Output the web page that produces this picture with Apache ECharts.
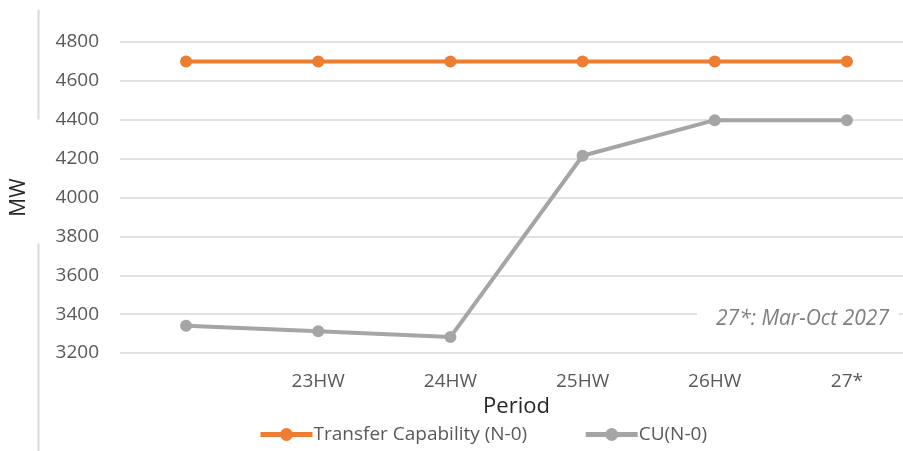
<!DOCTYPE html>
<html>
<head>
<meta charset="utf-8">
<script src="https://cdn.jsdelivr.net/npm/echarts@6/dist/echarts.min.js"></script>
<style>
  html, body { margin: 0; padding: 0; background: #fff; }
  #chart { width: 903px; height: 451px; }
</style>
</head>
<body>
<div id="chart"></div>
<script>
// 数据
const periods = ["", "23HW", "24HW", "25HW", "26HW", "27*"];
const transferCapability = [4700, 4700, 4700, 4700, 4700, 4700];
const cuN0 = [3340, 3312, 3282, 4215, 4398, 4398];
const yTicks = { min: 3200, max: 4800, interval: 200 };

const FONT = "'Open Sans', 'Noto Sans', sans-serif";
const ORANGE = "#ED7D31";
const GREY = "#A5A5A5";

const chart = echarts.init(document.getElementById("chart"));

chart.setOption({
  animation: false,
  textStyle: { fontFamily: FONT },
  grid: { left: 120, right: -10, top: 42, bottom: 98, outerBoundsMode: "none", containLabel: false },
  legend: {
    left: 253,
    top: 420,
    itemWidth: 52,
    itemHeight: 16,
    itemGap: 56,
    lineStyle: { width: 5 },
    textStyle: { color: "#595959", fontSize: 19, fontFamily: FONT, padding: [0, 0, 0, -4] },
    data: ["Transfer Capability (N-0)", "CU(N-0)"],
  },
  xAxis: {
    type: "category",
    data: periods,
    boundaryGap: true,
    name: "Period",
    nameLocation: "middle",
    nameGap: 37,
    nameTextStyle: { color: "#262626", fontSize: 22, fontFamily: FONT },
    axisLine: { show: false },
    axisTick: { show: false },
    axisLabel: { color: "#595959", fontSize: 19, margin: 19, fontFamily: FONT },
  },
  yAxis: {
    type: "value",
    min: yTicks.min,
    max: yTicks.max,
    interval: yTicks.interval,
    name: "MW",
    nameLocation: "middle",
    nameGap: 90,
    nameTextStyle: { color: "#262626", fontSize: 21, fontFamily: FONT },
    axisLine: { show: false },
    axisTick: { show: false },
    axisLabel: { color: "#595959", fontSize: 19, margin: 21, fontFamily: FONT, formatter: (v) => String(v) },
    splitLine: { lineStyle: { color: "#d9d9d9", width: 1.5 } },
  },
  series: [
    {
      name: "Transfer Capability (N-0)",
      type: "line",
      data: transferCapability,
      symbol: "circle",
      symbolSize: 12,
      lineStyle: { color: ORANGE, width: 4 },
      itemStyle: { color: ORANGE },
      z: 3,
    },
    {
      name: "CU(N-0)",
      type: "line",
      data: cuN0,
      symbol: "circle",
      symbolSize: 12,
      lineStyle: { color: GREY, width: 4 },
      itemStyle: { color: GREY },
      z: 2,
    },
  ],
  graphic: [
    // 左侧边框线（中间留空给 MW）
    { type: "line", left: 36, top: 7, shape: { x1: 0, y1: 0, x2: 0, y2: 110 }, style: { stroke: "#d9d9d9", lineWidth: 2 }, z: 0 },
    { type: "line", left: 36, top: 241, shape: { x1: 0, y1: 0, x2: 0, y2: 210 }, style: { stroke: "#d9d9d9", lineWidth: 2 }, z: 0 },
    // 注释
    {
      type: "text",
      left: 697,
      top: 307,
      z: 10,
      style: {
        text: "27*: Mar-Oct 2027",
        font: "italic 21px " + FONT,
        fill: "#7f7f7f",
        backgroundColor: "#fff",
        padding: [2, 10, 2, 19],
      },
    },
  ],
});
</script>
</body>
</html>
